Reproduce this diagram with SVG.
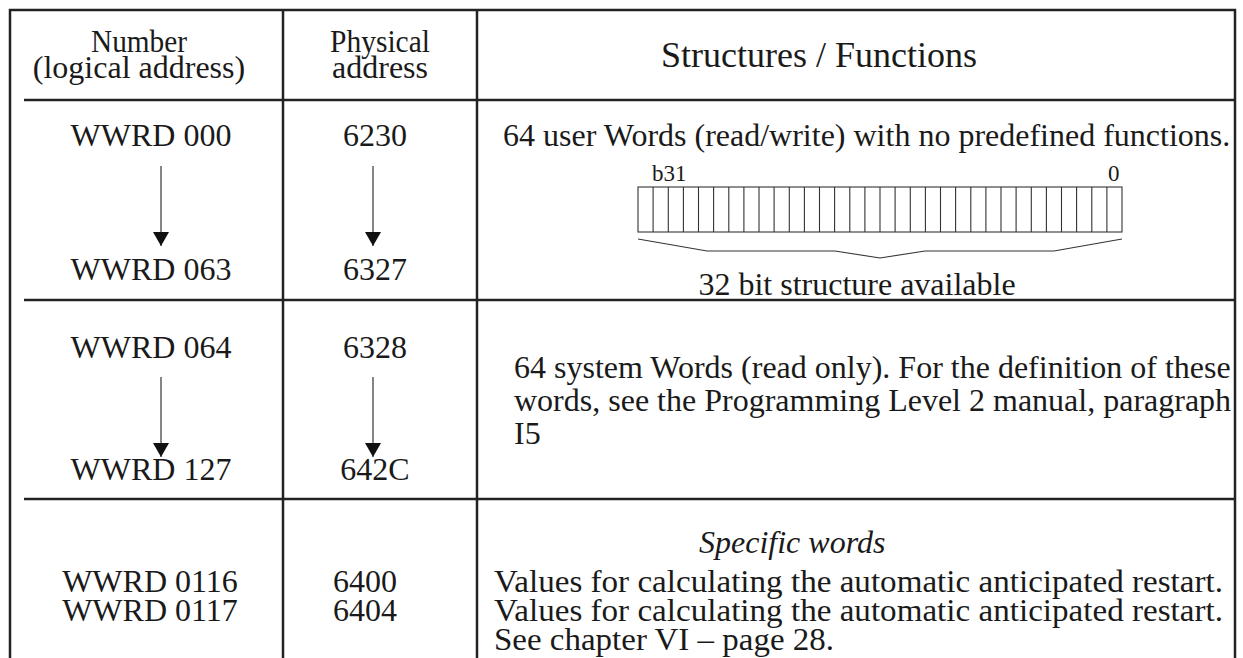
<svg xmlns="http://www.w3.org/2000/svg" width="1243" height="658" viewBox="0 0 1243 658">
  <style>
    text { font-family: "Liberation Serif", "Times New Roman", serif; font-size: 32px; fill: #1a1a1a; }
    .c { text-anchor: middle; }
    .small { font-size: 23px; }
    .big { font-size: 36px; }
    .it { font-style: italic; }
    .rule { stroke: #222; stroke-width: 2.5; fill: none; }
    .thin { stroke: #333; stroke-width: 1.1; fill: none; }
    .arrow { stroke: #444; stroke-width: 1.3; fill: none; marker-end: url(#head); }
  </style>
  <defs>
    <marker id="head" viewBox="0 0 14 16" refX="14" refY="8" markerWidth="14" markerHeight="16" markerUnits="userSpaceOnUse" orient="auto">
      <path d="M0,0 L14,8 L0,16 Z" fill="#111"/>
    </marker>
  </defs>
  <rect width="1243" height="658" fill="#fff"/>

  <!-- table frame and column dividers -->
  <g id="table-grid">
    <path class="rule" d="M10,658 L10,10 L1235,10 L1235,658"/>
    <path class="rule" d="M283,10 L283,658"/>
    <path class="rule" d="M477,10 L477,658"/>
    <path class="rule" d="M24,100 L1235,100"/>
    <path class="rule" d="M24,300 L1235,300"/>
    <path class="rule" d="M24,499 L1235,499"/>
  </g>

  <!-- column headings -->
  <g id="header">
    <text class="c" x="139" y="52" textLength="96" lengthAdjust="spacingAndGlyphs">Number</text>
    <text class="c" x="139" y="78">(logical address)</text>
    <text class="c" x="380" y="52" textLength="100" lengthAdjust="spacingAndGlyphs">Physical</text>
    <text class="c" x="380" y="78">address</text>
    <text class="big" x="661" y="67">Structures / Functions</text>
  </g>

  <!-- user words -->
  <g id="row-user-words">
    <text class="c" x="151" y="146">WWRD 000</text>
    <text class="c" x="151" y="280">WWRD 063</text>
    <text class="c" x="375" y="146">6230</text>
    <text class="c" x="375" y="280">6327</text>
    <text x="503" y="146">64 user Words (read/write) with no predefined functions.</text>
  </g>

  <!-- 32 bit word layout -->
  <g id="bit-structure">
    <text class="small" x="652" y="181">b31</text>
    <text class="small" x="1108" y="181">0</text>
    <rect class="thin" x="638" y="187" width="484" height="45"/>
    <path id="bit-cells" class="thin" d="M653.1,187v45M668.3,187v45M683.4,187v45M698.5,187v45M713.6,187v45M728.8,187v45M743.9,187v45M759,187v45M774.1,187v45M789.3,187v45M804.4,187v45M819.5,187v45M834.6,187v45M849.8,187v45M864.9,187v45M880,187v45M895.1,187v45M910.3,187v45M925.4,187v45M940.5,187v45M955.6,187v45M970.8,187v45M985.9,187v45M1001,187v45M1016.1,187v45M1031.3,187v45M1046.4,187v45M1061.5,187v45M1076.6,187v45M1091.8,187v45M1106.9,187v45"/>
    <path class="thin" d="M638,239 L707,251 L835,251 L880,258 L925,251 L1054,251 L1122,239"/>
    <text class="c" x="857" y="295">32 bit structure available</text>
  </g>

  <!-- system words -->
  <g id="row-system-words">
    <text class="c" x="151" y="358">WWRD 064</text>
    <text class="c" x="151" y="480">WWRD 127</text>
    <text class="c" x="375" y="358">6328</text>
    <text class="c" x="375" y="480">642C</text>
    <text x="514" y="378">64 system Words (read only). For the definition of these</text>
    <text x="514" y="411">words, see the Programming Level 2 manual, paragraph</text>
    <text x="514" y="444">I5</text>
  </g>

  <!-- specific words -->
  <g id="row-specific-words">
    <text class="c" x="150" y="592">WWRD 0116</text>
    <text class="c" x="150" y="621">WWRD 0117</text>
    <text x="333" y="592">6400</text>
    <text x="333" y="621">6404</text>
    <text class="it" x="699" y="553">Specific words</text>
    <text x="494" y="592" textLength="729" lengthAdjust="spacingAndGlyphs">Values for calculating the automatic anticipated restart.</text>
    <text x="494" y="621" textLength="729" lengthAdjust="spacingAndGlyphs">Values for calculating the automatic anticipated restart.</text>
    <text x="494" y="650" textLength="340" lengthAdjust="spacingAndGlyphs">See chapter VI – page 28.</text>
  </g>

  <!-- range arrows -->
  <g id="connectors">
    <path class="arrow" d="M161,166 L161,246"/>
    <path class="arrow" d="M373,166 L373,246"/>
    <path class="arrow" d="M161,377 L161,457"/>
    <path class="arrow" d="M373,377 L373,457"/>
  </g>
</svg>
